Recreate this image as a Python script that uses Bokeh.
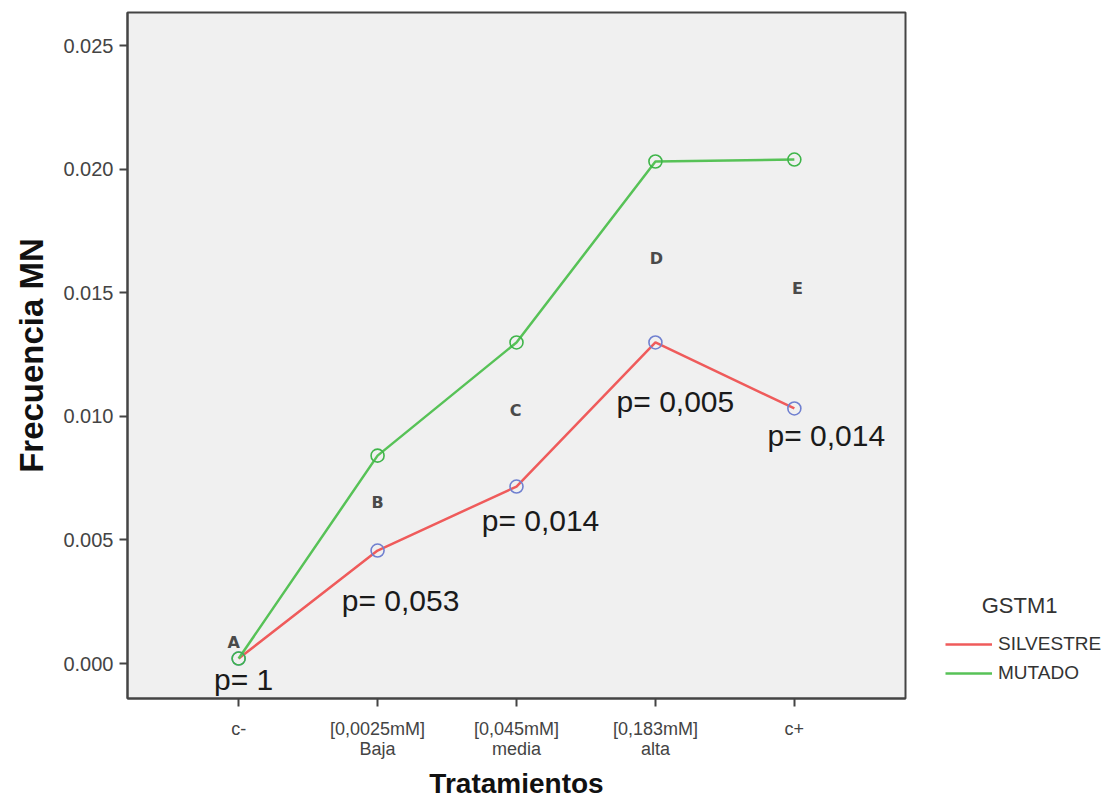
from bokeh.plotting import figure
from bokeh.models import ColumnDataSource, FixedTicker, Legend, LegendItem, NumeralTickFormatter, Range1d
from bokeh.core.properties import value
from bokeh.embed import file_html
from bokeh.resources import INLINE

# ---- data ----
categories = ["c-", "[0,0025mM]\nBaja", "[0,045mM]\nmedia", "[0,183mM]\nalta", "c+"]
silvestre = [0.0002, 0.00457, 0.00716, 0.01299, 0.01032]
mutado = [0.0002, 0.00841, 0.01299, 0.02031, 0.02039]
letters = ["A", "B", "C", "D", "E"]
letter_y = [0.00085, 0.00651, 0.01023, 0.01638, 0.01517]
p_labels = ["p= 1", "p= 0,053", "p= 0,014", "p= 0,005", "p= 0,014"]
p_label_y = [-0.00065, 0.00255, 0.00578, 0.0106, 0.00922]
y_ticks = [0.0, 0.005, 0.010, 0.015, 0.020, 0.025]

# annotation pixel offsets (layout only)
letter_dx = [-5, 0, -1, 1, 3]
p_label_dx = [5, 23, 24, 20, 32]

xs = list(range(len(categories)))
FONT = "Liberation Sans"

p = figure(frame_width=778, frame_height=686, output_backend="svg", toolbar_location=None,
           x_range=Range1d(-0.8, 4.8), y_range=Range1d(-0.001416, 0.02634),
           min_border_left=127, min_border_right=190, min_border_top=12, min_border_bottom=102,
           background_fill_color="#f0f0f0", border_fill_color="white")
p.outline_line_color = "#444444"
p.outline_line_width = 2
p.xgrid.visible = False
p.ygrid.visible = False

for ax in (p.xaxis[0], p.yaxis[0]):
    ax.axis_line_color = "#444444"
    ax.axis_line_width = 2
    ax.major_tick_in = 0
    ax.major_tick_out = 8
    ax.major_tick_line_color = "#444444"
    ax.major_tick_line_width = 2
    ax.minor_tick_line_color = None
    ax.major_label_text_font = FONT
    ax.major_label_text_color = "#444444"
    ax.axis_label_text_font = FONT
    ax.axis_label_text_font_style = "bold"
    ax.axis_label_text_color = "#111111"

p.yaxis.ticker = FixedTicker(ticks=y_ticks)
p.yaxis.formatter = NumeralTickFormatter(format="0.000")
p.yaxis.major_label_text_font_size = "20px"
p.yaxis.major_label_standoff = 6
p.yaxis.axis_label = "Frecuencia MN"
p.yaxis.axis_label_text_font_size = "33px"
p.yaxis.axis_label_standoff = 10

p.xaxis.ticker = FixedTicker(ticks=xs)
p.xaxis.major_label_overrides = {i: c for i, c in zip(xs, categories)}
p.xaxis.major_label_text_font_size = "18px"
p.xaxis.major_label_text_line_height = 1.0
p.xaxis.major_label_standoff = 12
p.xaxis.axis_label = "Tratamientos"
p.xaxis.axis_label_text_font_size = "28px"
p.xaxis.axis_label_standoff = 6

RED = "#ef5b5b"
GREEN = "#57c257"
BLUE_MK = "#7080d0"
GREEN_MK = "#3fb54a"

src = ColumnDataSource(dict(x=xs, s=silvestre, m=mutado))
r_red = p.line("x", "s", source=src, line_color=RED, line_width=2.5)
r_green = p.line("x", "m", source=src, line_color=GREEN, line_width=2.5)
p.scatter("x", "s", source=src, marker="circle", size=13, fill_color=None,
          line_color=BLUE_MK, line_width=1.6)
p.scatter("x", "m", source=src, marker="circle", size=13, fill_color=None,
          line_color=GREEN_MK, line_width=1.6)

ann = ColumnDataSource(dict(x=xs, ly=letter_y, lt=letters, ldx=letter_dx,
                            py=p_label_y, pt=p_labels, pdx=p_label_dx))
p.text("x", "ly", text="lt", source=ann, x_offset="ldx", text_align="center",
       text_baseline="middle", text_font=value("DejaVu Sans"), text_font_style="bold",
       text_font_size="16px", text_color="#4a4a4a")
p.text("x", "py", text="pt", source=ann, x_offset="pdx", text_align="center",
       text_baseline="middle", text_font=value(FONT),
       text_font_size="30px", text_color="#1a1a1a")

legend = Legend(items=[LegendItem(label="SILVESTRE", renderers=[r_red]),
                       LegendItem(label="MUTADO", renderers=[r_green])],
                location=(40, 14), padding=0, margin=20, spacing=7,
                glyph_width=47, glyph_height=20, label_standoff=6,
                label_text_font=FONT, label_text_font_size="19px",
                label_text_color="#333333",
                title="\u00a0" * 6 + "GSTM1", title_text_font=FONT,
                title_text_font_size="22px", title_text_font_style="normal",
                title_text_color="#333333", title_standoff=14,
                border_line_color=None, background_fill_alpha=0)
p.add_layout(legend, "right")

open("out.html", "w").write(file_html(p, INLINE))
